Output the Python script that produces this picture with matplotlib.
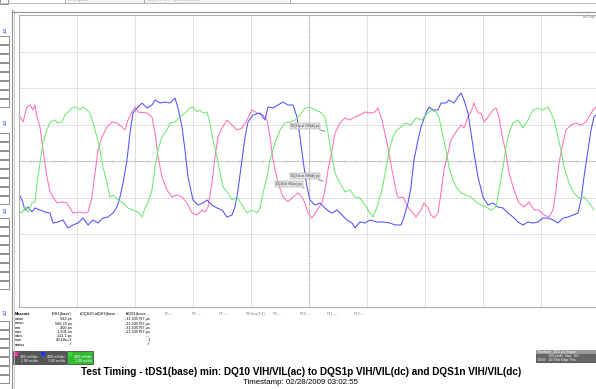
import matplotlib
matplotlib.use("Agg")
import matplotlib.pyplot as plt
from matplotlib.patches import Rectangle
import numpy as np

plt.rcParams['font.family'] = ['Liberation Sans', 'DejaVu Sans']

# waveform samples: time (ns, 0 = trigger), voltage (V)
pink_t = [-2.91, -2.87, -2.86, -2.82, -2.79, -2.76, -2.74, -2.72, -2.69, -2.66, -2.62, -2.59, -2.56, -2.52,
          -2.47, -2.42, -2.39, -2.36, -2.29, -2.24, -2.21, -2.17, -2.14, -2.11, -2.07, -2.02, -1.97, -1.92,
          -1.87, -1.84, -1.81, -1.77, -1.74, -1.71, -1.62, -1.57, -1.54, -1.51, -1.47, -1.42, -1.37, -1.32,
          -1.27, -1.22, -1.17, -1.12, -1.07, -1.04, -1.01, -0.97, -0.94, -0.91, -0.87, -0.82, -0.77, -0.72,
          -0.67, -0.62, -0.57, -0.52, -0.46, -0.42, -0.39, -0.36, -0.31, -0.26, -0.21, -0.16, -0.11, -0.07,
          -0.04, -0.01, 0.03, 0.08, 0.13, 0.16, 0.19, 0.23, 0.26, 0.31, 0.36, 0.41, 0.46, 0.51, 0.56, 0.61,
          0.66, 0.69, 0.73, 0.78, 0.83, 0.88, 0.90, 0.94, 0.99, 1.04, 1.07, 1.12, 1.15, 1.19, 1.22, 1.25,
          1.29, 1.32, 1.35, 1.39, 1.42, 1.47, 1.52, 1.55, 1.59, 1.62, 1.65, 1.69, 1.72, 1.75, 1.79, 1.84,
          1.87, 1.90, 1.94, 1.97, 2.00, 2.05, 2.10, 2.15, 2.20, 2.25, 2.30, 2.35, 2.40, 2.44, 2.47, 2.50,
          2.54, 2.57, 2.62, 2.67, 2.72, 2.77, 2.80, 2.84, 2.87]
pink_v = [0.48, 0.41, 0.39, 0.54, 0.56, 0.51, 0.56, 0.44, 0.34, 0.11, -0.16, -0.31, -0.36, -0.42,
          -0.41, -0.42, -0.47, -0.52, -0.51, -0.52, -0.51, -0.36, -0.12, 0.11, 0.24, 0.34, 0.39, 0.38,
          0.34, 0.31, 0.41, 0.49, 0.54, 0.49, 0.48, 0.44, 0.28, 0.04, -0.16, -0.29, -0.36, -0.34,
          -0.36, -0.42, -0.52, -0.54, -0.49, -0.51, -0.46, -0.22, 0.04, 0.24, 0.33, 0.41, 0.36, 0.31,
          0.33, 0.41, 0.51, 0.48, 0.46, 0.41, 0.24, 0.01, -0.22, -0.36, -0.41, -0.36, -0.32, -0.36,
          -0.42, -0.52, -0.57, -0.49, -0.42, -0.29, -0.09, 0.11, 0.28, 0.38, 0.43, 0.41, 0.44, 0.46, 0.49, 0.48,
          0.49, 0.53, 0.41, 0.18, -0.09, -0.34, -0.37, -0.36, -0.46, -0.52, -0.56, -0.49, -0.42, -0.47, -0.54, -0.57,
          -0.52, -0.32, -0.09, 0.08, 0.21, 0.29, 0.36, 0.33, 0.44, 0.49, 0.58, 0.48, 0.48, 0.39, 0.44, 0.51,
          0.53, 0.44, 0.21, 0.08, -0.12, -0.29, -0.42, -0.46, -0.41, -0.49, -0.49, -0.54, -0.56, -0.49, -0.29, -0.02,
          0.18, 0.31, 0.36, 0.38, 0.36, 0.39, 0.44, 0.51, 0.54]

blue_t = [-2.91, -2.87, -2.84, -2.81, -2.77, -2.74, -2.69, -2.64, -2.59, -2.56, -2.51, -2.46, -2.41, -2.36,
          -2.31, -2.26, -2.21, -2.16, -2.11, -2.06, -2.01, -1.96, -1.92, -1.89, -1.86, -1.82, -1.79, -1.76,
          -1.72, -1.67, -1.62, -1.57, -1.54, -1.49, -1.44, -1.39, -1.34, -1.31, -1.27, -1.24, -1.21, -1.16,
          -1.11, -1.06, -1.02, -0.97, -0.92, -0.87, -0.82, -0.77, -0.74, -0.71, -0.67, -0.64, -0.61, -0.56,
          -0.49, -0.44, -0.41, -0.36, -0.31, -0.26, -0.21, -0.16, -0.12, -0.09, -0.06, -0.02, 0.01, 0.06,
          0.11, 0.18, 0.23, 0.28, 0.33, 0.38, 0.43, 0.46, 0.51, 0.56, 0.61, 0.68, 0.74, 0.81, 0.86, 0.92,
          0.95, 0.99, 1.02, 1.05, 1.09, 1.12, 1.17, 1.20, 1.24, 1.29, 1.32, 1.37, 1.40, 1.45, 1.49, 1.52,
          1.55, 1.59, 1.62, 1.65, 1.69, 1.74, 1.79, 1.84, 1.89, 1.94, 1.99, 2.04, 2.09, 2.14, 2.19, 2.24,
          2.29, 2.34, 2.39, 2.44, 2.49, 2.54, 2.59, 2.64, 2.69, 2.72, 2.75, 2.79, 2.82, 2.85, 2.87]
blue_v = [-0.31, -0.39, -0.49, -0.46, -0.51, -0.47, -0.49, -0.51, -0.52, -0.62, -0.61, -0.59, -0.67, -0.64,
          -0.62, -0.57, -0.64, -0.59, -0.62, -0.57, -0.56, -0.52, -0.46, -0.36, -0.22, 0.01, 0.28, 0.48,
          0.53, 0.58, 0.53, 0.56, 0.61, 0.58, 0.59, 0.58, 0.63, 0.53, 0.34, 0.11, -0.16, -0.39,
          -0.44, -0.42, -0.39, -0.44, -0.47, -0.49, -0.56, -0.54, -0.46, -0.29, 0.01, 0.24, 0.39, 0.46,
          0.48, 0.41, 0.54, 0.53, 0.56, 0.59, 0.56, 0.56, 0.44, 0.24, 0.01, -0.26, -0.39, -0.44,
          -0.42, -0.49, -0.52, -0.49, -0.54, -0.59, -0.62, -0.67, -0.61, -0.62, -0.59, -0.61, -0.61, -0.62, -0.64, -0.64,
          -0.56, -0.42, -0.26, 0.01, 0.21, 0.34, 0.48, 0.54, 0.51, 0.51, 0.58, 0.58, 0.61, 0.58, 0.64, 0.68,
          0.61, 0.48, 0.28, 0.08, -0.16, -0.36, -0.44, -0.42, -0.46, -0.47, -0.52, -0.56, -0.61, -0.64, -0.61, -0.62,
          -0.61, -0.57, -0.57, -0.59, -0.62, -0.57, -0.56, -0.54, -0.52, -0.39, -0.16, 0.11, 0.31, 0.44, 0.46]

green_t = [-2.91, -2.87, -2.84, -2.81, -2.77, -2.74, -2.72, -2.69, -2.66, -2.62, -2.59, -2.54, -2.51, -2.47,
           -2.44, -2.41, -2.37, -2.32, -2.29, -2.26, -2.22, -2.19, -2.16, -2.12, -2.09, -2.06, -2.02, -1.99,
           -1.96, -1.91, -1.86, -1.81, -1.76, -1.71, -1.67, -1.64, -1.61, -1.57, -1.54, -1.51, -1.47, -1.42,
           -1.39, -1.34, -1.29, -1.24, -1.19, -1.16, -1.12, -1.09, -1.06, -1.02, -0.99, -0.96, -0.92, -0.89,
           -0.86, -0.81, -0.77, -0.72, -0.67, -0.62, -0.57, -0.52, -0.49, -0.46, -0.42, -0.39, -0.34, -0.29,
           -0.24, -0.19, -0.14, -0.09, -0.04, 0.01, 0.06, 0.11, 0.16, 0.19, 0.23, 0.26, 0.31, 0.36, 0.41, 0.46,
           0.51, 0.56, 0.61, 0.64, 0.68, 0.73, 0.78, 0.81, 0.84, 0.88, 0.92, 0.97, 1.02, 1.07, 1.12, 1.17,
           1.22, 1.27, 1.30, 1.34, 1.37, 1.40, 1.44, 1.47, 1.52, 1.57, 1.62, 1.67, 1.72, 1.77, 1.82, 1.87,
           1.90, 1.94, 1.97, 2.00, 2.04, 2.09, 2.14, 2.19, 2.24, 2.29, 2.34, 2.39, 2.42, 2.45, 2.49, 2.52,
           2.55, 2.60, 2.65, 2.70, 2.75, 2.80, 2.85]
green_v = [-0.49, -0.52, -0.46, -0.51, -0.42, -0.41, -0.22, -0.02, 0.18, 0.31, 0.39, 0.41, 0.38, 0.39,
           0.46, 0.49, 0.53, 0.54, 0.51, 0.54, 0.51, 0.48, 0.38, 0.24, 0.11, -0.06, -0.22, -0.36,
           -0.34, -0.39, -0.42, -0.47, -0.49, -0.51, -0.56, -0.47, -0.42, -0.29, -0.06, 0.11, 0.24, 0.31,
           0.38, 0.39, 0.44, 0.48, 0.53, 0.54, 0.49, 0.51, 0.48, 0.49, 0.38, 0.21, 0.04, -0.12,
           -0.26, -0.32, -0.39, -0.36, -0.44, -0.52, -0.49, -0.52, -0.47, -0.32, -0.16, 0.01, 0.18, 0.31,
           0.38, 0.39, 0.41, 0.46, 0.53, 0.54, 0.51, 0.49, 0.44, 0.28, 0.04, -0.12, -0.22, -0.31, -0.29, -0.36,
           -0.37, -0.44, -0.52, -0.56, -0.46, -0.29, -0.02, 0.14, 0.24, 0.31, 0.34, 0.38, 0.36, 0.43, 0.41, 0.46,
           0.51, 0.49, 0.44, 0.24, 0.11, -0.06, -0.19, -0.26, -0.32, -0.34, -0.36, -0.41, -0.44, -0.46, -0.49, -0.46,
           -0.29, -0.06, 0.14, 0.28, 0.38, 0.41, 0.33, 0.41, 0.51, 0.53, 0.51, 0.54, 0.48, 0.41, 0.24, 0.11,
           -0.06, -0.22, -0.32, -0.37, -0.36, -0.42, -0.49]

# measurement cursor labels (text, box position, target point)
ann_text = ["DQS1p at VIH(dc) ps", "DQS1n at VIH(dc) ps", "DQ10 at VIL(ac) ps"]
ann_box = [(-0.04, 0.35), (-0.04, -0.15), (-0.20, -0.23)]
ann_pt = [(0.19, 0.29), (0.17, -0.21), (-0.02, -0.28)]

meas_rows = ["value", "mean", "min", "max", "sdev", "num", "status"]
meas_p1 = ["562 ps", "566.15 ps", "400 ps", "1.901 ns", "111.1 ps", "4.518e+3", "\u2713"]
meas_p3 = ["-31.535797 \u00b5s", "-31.535797 \u00b5s", "-31.535797 \u00b5s", "-31.535797 \u00b5s", "---", "1", "\u2713"]
meas_heads = ["P5:---", "P6:---", "P7:---", "P8:freq(F4)", "P9:---", "P10:---", "P11:---", "P12:---"]

W, H = 596, 389
fig = plt.figure(figsize=(W / 100, H / 100), dpi=100)


def fx(x):
    return x / W


def fy(y):
    return 1 - y / H


def box(x0, y0, x1, y1, **kw):
    fig.patches.append(Rectangle((fx(x0), fy(y1)), fx(x1) - fx(x0), fy(y0) - fy(y1),
                                 transform=fig.transFigure, **kw))


# scope grid
ax = fig.add_axes([fx(19), fy(307), fx(599) - fx(19), fy(15) - fy(307)])
ax.set_xlim(-2.9, 2.9)
ax.set_ylim(-1.46, 1.46)
ax.set_xticks(np.arange(-5, 6) * 0.58)
ax.set_yticks(np.arange(-4, 5) * 0.365)
ax.grid(True, color="#dcdcdc", lw=0.6)
ax.tick_params(length=0, labelbottom=False, labelleft=False)
for s in ax.spines.values():
    s.set_color("#b0b0b0")
    s.set_linewidth(0.8)
ax.axvline(0, color="#c8c8c8", lw=0.7)
ax.axhline(0, color="#c8c8c8", lw=0.7)
ax.plot(np.arange(-25, 26) * 0.116, np.zeros(51), ls="none", marker="|", ms=2, color="#c0c0c0", mew=0.5)
ax.plot(np.zeros(41), np.arange(-20, 21) * 0.073, ls="none", marker="_", ms=2, color="#c0c0c0", mew=0.5)

ax.plot(pink_t, pink_v, color="#ff70b8", lw=0.75)
ax.plot(blue_t, blue_v, color="#5050ff", lw=0.75)
ax.plot(green_t, green_v, color="#70e870", lw=0.75)

for txt, b, p in zip(ann_text, ann_box, ann_pt):
    ax.annotate(txt, xy=p, xytext=b, fontsize=2.2, ha="center", va="center", color="#333333",
                bbox=dict(boxstyle="square,pad=0.3", fc="#e4e4e4", ec="#909090", lw=0.3),
                arrowprops=dict(arrowstyle="-", color="#333333", lw=0.4))

# outer frame lines
fig.add_artist(plt.Line2D([fx(12), fx(12)], [fy(10), fy(389)], color="#909090", lw=0.8))
fig.add_artist(plt.Line2D([fx(14), fx(14)], [fy(10), fy(389)], color="#c0c0c0", lw=0.6))
fig.add_artist(plt.Line2D([fx(12), fx(596)], [fy(12), fy(12)], color="#909090", lw=0.8))
fig.add_artist(plt.Line2D([fx(0), fx(596)], [fy(3), fy(3)], color="#b0b0b0", lw=0.6))

# top header fields
box(0, -2, 8, 4, fc="white", ec="#808080", lw=0.6)
box(65, -2, 144, 3, fc="#f4f4f4", ec="#909090", lw=0.5)
box(144, -2, 290, 3, fc="#f4f4f4", ec="#909090", lw=0.5)
fig.text(fx(68), fy(0.5), "Description", fontsize=3, color="#aaaaaa", va="center")
fig.text(fx(147), fy(0.5), "DQ10 at VIH input setup time", fontsize=3, color="#aaaaaa", va="center")
fig.text(fx(595), fy(17), "LeCroy", fontsize=2.8, color="#777777", ha="right", va="center")

# left strip of stacked cells
for y0 in [36, 45, 54, 63, 72, 81, 90, 99, 133, 142, 151, 160, 169, 178, 187, 196, 218, 227, 236, 245,
           254, 263, 272, 281, 321, 330, 339, 348, 357, 366, 375]:
    box(-1, y0, 9, y0 + 8, fc="white", ec="#606060", lw=0.5)
for yl in [31, 124, 212, 313]:
    fig.text(fx(1), fy(yl), "1]", fontsize=4.5, color="#3355dd", va="center")
fig.text(fx(15), fy(252), "\u25aa", fontsize=3, color="#44cc44", ha="center", va="center")

# measurement table
ty = [319, 323.5, 328, 332, 336, 340, 344.5]
fig.text(fx(15), fy(314), "Measure", fontsize=2.8, weight="bold", va="center")
fig.text(fx(72), fy(314), "tDS1(base)", fontsize=2.8, ha="right", va="center")
fig.text(fx(80), fy(314), "tDQS10 tdQS1(base...", fontsize=2.8, va="center")
fig.text(fx(150), fy(314), "tdQS1(base...", fontsize=2.8, ha="right", va="center")
for i, h in enumerate(meas_heads):
    fig.text(fx(165 + i * 27), fy(314), h, fontsize=2.8, color="#888888", va="center")
for r, v1, v3, y in zip(meas_rows, meas_p1, meas_p3, ty):
    fig.text(fx(15), fy(y), r, fontsize=2.8, va="center")
    fig.text(fx(72), fy(y), v1, fontsize=2.8, ha="right", va="center")
    fig.text(fx(150), fy(y), v3, fontsize=2.8, ha="right", va="center")

# channel descriptor boxes
for x0, col, fill in [(13, "#ff3399", "#555555"), (40, "#2233ff", "#555555"), (67, "#33dd33", "#33bb33")]:
    box(x0, 351, x0 + 26, 364, fc=fill, ec="#333333", lw=0.5)
    box(x0 + 1, 352, x0 + 5, 355.5, fc=col, ec="none")
    fig.text(fx(x0 + 25), fy(357.5), "400 mV/div", fontsize=2.5, color="white", ha="right", va="center")
    fig.text(fx(x0 + 25), fy(361.5), "1.00 ns/div", fontsize=2.5, color="white", ha="right", va="center")
box(536, 350, 597, 362, fc="#666666", ec="#333333", lw=0.5)
box(536, 350, 597, 353.5, fc="#999999", ec="none")
fig.text(fx(537), fy(352), "Timebase  -31.5 \u00b5s Trigger", fontsize=2.3, color="white", va="center")
fig.text(fx(537), fy(356), "             100 ps/div  Stop   0.0", fontsize=2.3, color="white", va="center")
fig.text(fx(537), fy(360), "10 kS    20 GS/s Edge  Pos", fontsize=2.3, color="white", va="center")

fig.text(0.505, fy(372), "Test Timing - tDS1(base) min: DQ10 VIH/VIL(ac) to DQS1p VIH/VIL(dc) and DQS1n VIH/VIL(dc)",
         fontsize=7.2, weight="bold", ha="center", va="center")
fig.text(0.505, fy(383), "Timestamp: 02/28/2009 03:02:55", fontsize=5.7, ha="center", va="center")

fig.savefig("out.png", dpi=100)
